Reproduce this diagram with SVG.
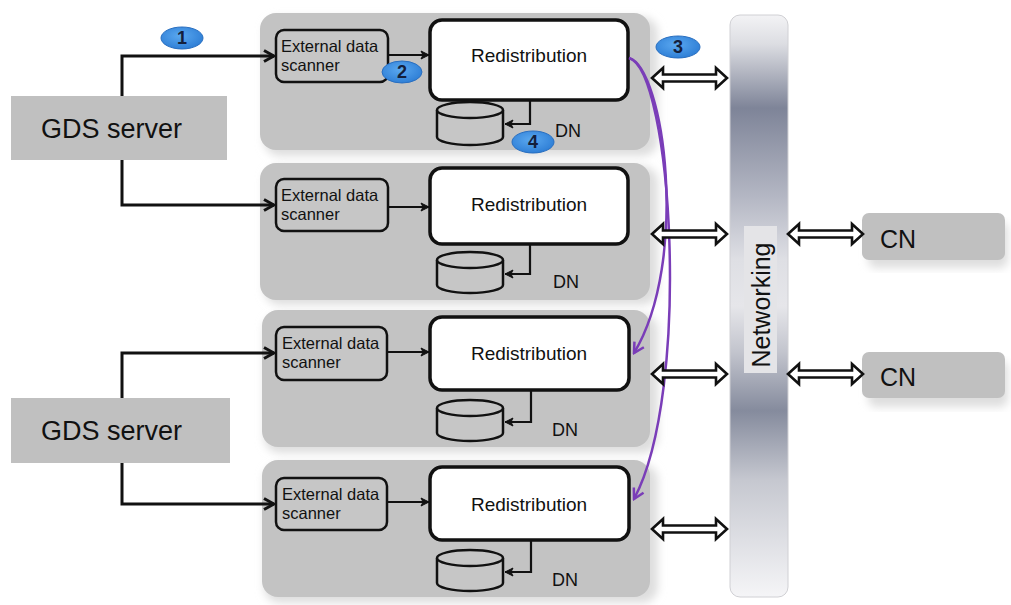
<svg xmlns="http://www.w3.org/2000/svg" width="1011" height="605" viewBox="0 0 1011 605">
<style>
  text { font-family: "Liberation Sans", Arial, sans-serif; fill: #111; }
  .panel { fill: #c3c3c3; }
  .shadow { fill: #dedede; filter: url(#blur); }
  .gds { fill: #c0c0c0; }
  .gdst { font-size: 27px; }
  .scan { fill: #c6c6c6; stroke: #111; stroke-width: 2.5; }
  .scant { font-size: 16.5px; }
  .redis { fill: #fff; stroke: #111; stroke-width: 3.5; }
  .redist { font-size: 19px; text-anchor: middle; }
  .cyl { fill: #c6c6c6; stroke: #111; stroke-width: 2.5; }
  .dn { font-size: 18px; }
  .cn { fill: #c0c0c0; }
  .cnt { font-size: 25px; }
  .conn { fill: none; stroke: #111; }
  .thick { stroke-width: 3; }
  .thin { stroke-width: 2.2; }
  .purple { fill: none; stroke: #7a3db8; stroke-width: 2.5; }
  .dbl { fill: #fff; stroke: #111; stroke-width: 2.6; stroke-linejoin: miter; }
  .badge { fill: url(#bg); stroke: #2a6fc0; stroke-width: 1; }
  .badget { font-size: 18px; font-weight: bold; text-anchor: middle; fill: #14203c; }
</style>
<defs>
  <filter id="blur" x="-10%" y="-10%" width="120%" height="120%"><feGaussianBlur stdDeviation="4"/></filter>
  <linearGradient id="net" x1="0" y1="0" x2="0" y2="1">
    <stop offset="0" stop-color="#f3f3f5"/>
    <stop offset="0.05" stop-color="#dcdde2"/>
    <stop offset="0.16" stop-color="#7e8498"/>
    <stop offset="0.31" stop-color="#b3b6c3"/>
    <stop offset="0.42" stop-color="#dedfe4"/>
    <stop offset="0.50" stop-color="#e6e6ea"/>
    <stop offset="0.58" stop-color="#c2c4cd"/>
    <stop offset="0.68" stop-color="#858b9d"/>
    <stop offset="0.80" stop-color="#c6c8d0"/>
    <stop offset="1" stop-color="#f5f5f7"/>
  </linearGradient>
  <radialGradient id="bg" cx="0.45" cy="0.4" r="0.6">
    <stop offset="0" stop-color="#5aa8f0"/>
    <stop offset="1" stop-color="#2f7fd6"/>
  </radialGradient>
  <marker id="ahBig" viewBox="0 0 14 14" refX="12" refY="7" markerWidth="14" markerHeight="14" markerUnits="userSpaceOnUse" orient="auto">
    <path d="M2,1.5 L12,7 L2,12.5" fill="none" stroke="#111" stroke-width="3"/>
  </marker>
  <marker id="ahSmall" viewBox="0 0 10 10" refX="9" refY="5" markerWidth="10" markerHeight="10" markerUnits="userSpaceOnUse" orient="auto">
    <path d="M1,1 L9,5 L1,9 L3,5 Z" fill="#111" stroke="#111" stroke-width="1"/>
  </marker>
  <marker id="ahPurple" viewBox="0 0 14 14" refX="12" refY="7" markerWidth="14" markerHeight="14" markerUnits="userSpaceOnUse" orient="auto">
    <path d="M2,1.5 L12,7 L2,12.5" fill="none" stroke="#7a3db8" stroke-width="2.5"/>
  </marker>
  <path id="dblArrow" class="dbl" d="M0,0 L11,-10 L11,-3.5 L64,-3.5 L64,-10 L75,0 L64,10 L64,3.5 L11,3.5 L11,10 Z"/>
</defs>

<rect width="1011" height="605" fill="#fff"/>

<!-- shadows -->
<g id="shadows">
  <rect class="shadow" x="264" y="17" width="394" height="139" rx="16"/>
  <rect class="shadow" x="264" y="166" width="394" height="139" rx="16"/>
  <rect class="shadow" x="264" y="314" width="394" height="139" rx="16"/>
  <rect class="shadow" x="264" y="464" width="394" height="139" rx="16"/>
  <rect class="shadow" x="868" y="222" width="140" height="46" rx="8"/>
  <rect class="shadow" x="868" y="361" width="140" height="46" rx="8"/>
</g>

<!-- GDS servers -->
<g id="gds1">
  <rect class="gds" x="11" y="96" width="216" height="64"/>
  <text class="gdst" x="41" y="138">GDS server</text>
</g>
<g id="gds2">
  <rect class="gds" x="11" y="398" width="219" height="65"/>
  <text class="gdst" x="41" y="440">GDS server</text>
</g>

<!-- Networking -->
<g id="networking">
  <rect x="730" y="15" width="58" height="582" rx="10" fill="url(#net)" stroke="#d0d0d4" stroke-width="1"/>
  <rect x="744" y="226" width="33" height="147" fill="#e4e4e7"/>
  <text x="770" y="305" font-size="25" text-anchor="middle" transform="rotate(-90 770 305)">Networking</text>
</g>

<!-- CN -->
<g id="cn1">
  <rect class="cn" x="862" y="213" width="143" height="47" rx="7"/>
  <text class="cnt" x="880" y="248">CN</text>
</g>
<g id="cn2">
  <rect class="cn" x="862" y="352" width="143" height="46" rx="7"/>
  <text class="cnt" x="880" y="386">CN</text>
</g>

<!-- DN panel 1 -->
<g id="dn1">
  <rect class="panel" x="260" y="13" width="390" height="137" rx="16"/>
  <rect class="scan" x="276" y="30" width="112" height="52" rx="8"/>
  <text class="scant" x="281" y="52">External data</text>
  <text class="scant" x="281" y="71">scanner</text>
  <rect class="redis" x="430" y="20" width="198" height="80" rx="12"/>
  <text class="redist" x="529" y="62">Redistribution</text>
  <path class="cyl" d="M437,110 V137 A33,8 0 0 0 503,137 V110"/>
  <ellipse class="cyl" cx="470" cy="110" rx="33" ry="8"/>
  <text class="dn" x="555" y="137">DN</text>
</g>

<!-- DN panel 2 -->
<g id="dn2">
  <rect class="panel" x="260" y="163" width="390" height="137" rx="16"/>
  <rect class="scan" x="276" y="179" width="112" height="52" rx="8"/>
  <text class="scant" x="281" y="201">External data</text>
  <text class="scant" x="281" y="220">scanner</text>
  <rect class="redis" x="430" y="168" width="198" height="76" rx="12"/>
  <text class="redist" x="529" y="211">Redistribution</text>
  <path class="cyl" d="M437,260 V285 A33,8 0 0 0 503,285 V260"/>
  <ellipse class="cyl" cx="470" cy="260" rx="33" ry="8"/>
  <text class="dn" x="553" y="288">DN</text>
</g>

<!-- DN panel 3 -->
<g id="dn3">
  <rect class="panel" x="262" y="310" width="388" height="137" rx="16"/>
  <rect class="scan" x="276" y="327" width="111" height="53" rx="8"/>
  <text class="scant" x="282" y="349">External data</text>
  <text class="scant" x="282" y="368">scanner</text>
  <rect class="redis" x="430" y="317" width="199" height="73" rx="12"/>
  <text class="redist" x="529" y="360">Redistribution</text>
  <path class="cyl" d="M437,408 V433 A33,8 0 0 0 503,433 V408"/>
  <ellipse class="cyl" cx="470" cy="408" rx="33" ry="8"/>
  <text class="dn" x="552" y="436">DN</text>
</g>

<!-- DN panel 4 -->
<g id="dn4">
  <rect class="panel" x="262" y="460" width="388" height="137" rx="16"/>
  <rect class="scan" x="276" y="478" width="111" height="52" rx="8"/>
  <text class="scant" x="282" y="500">External data</text>
  <text class="scant" x="282" y="519">scanner</text>
  <rect class="redis" x="430" y="467" width="199" height="73" rx="12"/>
  <text class="redist" x="529" y="511">Redistribution</text>
  <path class="cyl" d="M437,558 V583 A33,8 0 0 0 503,583 V558"/>
  <ellipse class="cyl" cx="470" cy="558" rx="33" ry="8"/>
  <text class="dn" x="552" y="586">DN</text>
</g>

<!-- connectors -->
<g id="connectors">
  <path class="conn thick" d="M122,96 V56 H274" marker-end="url(#ahBig)"/>
  <path class="conn thick" d="M122,160 V205 H274" marker-end="url(#ahBig)"/>
  <path class="conn thick" d="M122,398 V353 H274" marker-end="url(#ahBig)"/>
  <path class="conn thick" d="M122,463 V504 H274" marker-end="url(#ahBig)"/>

  <path class="conn thin" d="M388,55 H429" marker-end="url(#ahSmall)"/>
  <path class="conn thin" d="M388,207 H429" marker-end="url(#ahSmall)"/>
  <path class="conn thin" d="M387,352 H429" marker-end="url(#ahSmall)"/>
  <path class="conn thin" d="M387,502 H429" marker-end="url(#ahSmall)"/>

  <path class="conn thin" d="M530,100 V124 H505" marker-end="url(#ahSmall)"/>
  <path class="conn thin" d="M530,244 V274 H505" marker-end="url(#ahSmall)"/>
  <path class="conn thin" d="M531,390 V422 H505" marker-end="url(#ahSmall)"/>
  <path class="conn thin" d="M531,540 V572 H505" marker-end="url(#ahSmall)"/>

  <path class="purple" d="M629,58 C664,68 690,260 634,353" marker-end="url(#ahPurple)"/>
  <path class="purple" d="M629,58 C672,70 692,390 634,499" marker-end="url(#ahPurple)"/>

  <use href="#dblArrow" x="652" y="78"/>
  <use href="#dblArrow" x="652" y="234"/>
  <use href="#dblArrow" x="652" y="374"/>
  <use href="#dblArrow" x="652" y="529"/>
  <use href="#dblArrow" x="788" y="234"/>
  <use href="#dblArrow" x="788" y="374"/>
</g>

<!-- badges -->
<g id="badges">
  <ellipse class="badge" cx="182" cy="38" rx="21" ry="11"/>
  <text class="badget" x="182" y="44">1</text>
  <ellipse class="badge" cx="402" cy="72" rx="20" ry="11"/>
  <text class="badget" x="402" y="78">2</text>
  <ellipse class="badge" cx="678" cy="47" rx="22" ry="11"/>
  <text class="badget" x="678" y="53">3</text>
  <ellipse class="badge" cx="533" cy="142" rx="21" ry="11"/>
  <text class="badget" x="533" y="148">4</text>
</g>
</svg>
